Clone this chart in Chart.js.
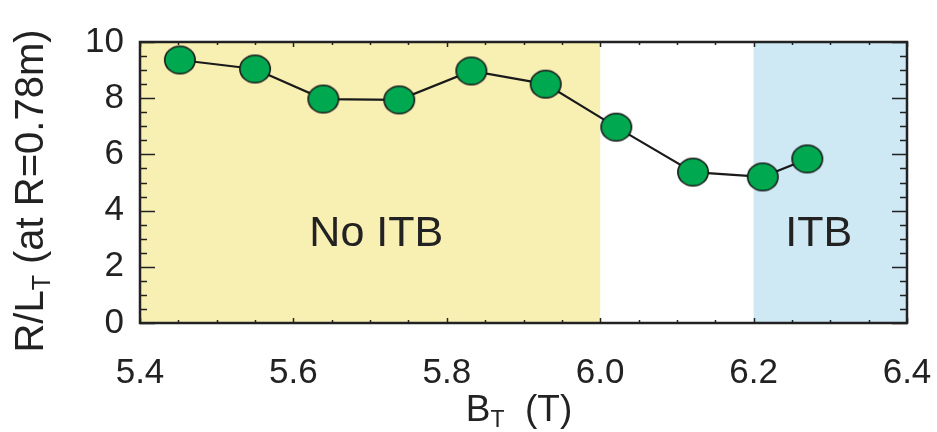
<!DOCTYPE html>
<html>
<head>
<meta charset="utf-8">
<script src="https://cdn.jsdelivr.net/npm/chart.js@4.4.1/dist/chart.umd.min.js"></script>
<style>
  html, body { margin: 0; padding: 0; background: #fff; }
  canvas { display: block; }
</style>
</head>
<body>
<canvas id="c" width="937" height="432"></canvas>
<script>
// toroidal field B_T (T) and R/L_T at R=0.78m
const bField = [5.452, 5.550, 5.639, 5.738, 5.832, 5.929, 6.021, 6.121, 6.212, 6.270];
const rlt    = [9.36, 9.04, 7.97, 7.94, 8.97, 8.50, 6.97, 5.37, 5.20, 5.84];

const xTicks = [5.4, 5.6, 5.8, 6.0, 6.2, 6.4];
const yTicks = [0, 2, 4, 6, 8, 10];

// shaded regimes
const regions = [
  { from: 5.4, to: 6.0, color: '#F8F0B3' },
  { from: 6.2, to: 6.4, color: '#CEE8F4' }
];

const FONT = '"Liberation Sans", Arial, sans-serif';
const INK = '#222';

// slightly oval marker like the original
function makeMarker() {
  const c = document.createElement('canvas');
  c.width = 34; c.height = 31;
  const g = c.getContext('2d');
  g.beginPath();
  g.ellipse(17, 15.5, 15.2, 13.8, 0, 0, Math.PI * 2);
  g.fillStyle = '#00A84F';
  g.fill();
  g.lineWidth = 1.6;
  g.strokeStyle = '#1a1a1a';
  g.stroke();
  return c;
}

const decor = {
  id: 'decor',
  beforeDatasetsDraw(chart) {
    const { ctx, chartArea: a, scales: { x, y } } = chart;
    ctx.save();
    regions.forEach(r => {
      const x0 = x.getPixelForValue(r.from), x1 = x.getPixelForValue(r.to);
      ctx.fillStyle = r.color;
      ctx.fillRect(x0, a.top, x1 - x0, a.bottom - a.top);
    });
    // region labels
    ctx.fillStyle = INK;
    ctx.font = '43px ' + FONT;
    ctx.textAlign = 'center';
    ctx.textBaseline = 'alphabetic';
    ctx.fillText('No ITB', x.getPixelForValue(5.708), y.getPixelForValue(2.74));
    ctx.fillText('ITB', x.getPixelForValue(6.285), y.getPixelForValue(2.74));
    ctx.restore();
  },
  afterDatasetsDraw(chart) {
    const { ctx, chartArea: a, scales: { x, y } } = chart;
    ctx.save();
    ctx.strokeStyle = INK;
    ctx.lineWidth = 1.5;
    ctx.beginPath();
    // y ticks every 0.5, long at the labelled values
    for (let v = 0; v <= 10.001; v += 0.5) {
      const py = Math.round(y.getPixelForValue(v)) + 0.5;
      const len = Math.abs(v % 2) < 0.01 ? 15 : 7;
      ctx.moveTo(a.left, py); ctx.lineTo(a.left + len, py);
      ctx.moveTo(a.right, py); ctx.lineTo(a.right - len, py);
    }
    // x ticks every 0.05
    for (let i = 0; i <= 20; i++) {
      const v = 5.4 + i * 0.05;
      const px = Math.round(x.getPixelForValue(v)) + 0.5;
      const len = i % 4 === 0 ? 5 : 3;
      ctx.moveTo(px, a.bottom); ctx.lineTo(px, a.bottom - len);
      ctx.moveTo(px, a.top); ctx.lineTo(px, a.top + len);
    }
    ctx.stroke();
    ctx.lineWidth = 2.5;
    ctx.strokeRect(a.left, a.top, a.right - a.left, a.bottom - a.top);
    ctx.restore();
  },
  afterDraw(chart) {
    const { ctx, chartArea: a } = chart;
    ctx.save();
    ctx.fillStyle = INK;
    ctx.textBaseline = 'alphabetic';
    // x title: B_T (T)
    let big = '37px ' + FONT, sub = '23px ' + FONT;
    ctx.font = big; const wB = ctx.measureText('B').width;
    ctx.font = sub; const wT = ctx.measureText('T').width;
    ctx.font = big; const wR = ctx.measureText('  (T)').width;
    let sx = 519 - (wB + wT + wR) / 2;
    const by = 421;
    ctx.font = big; ctx.fillText('B', sx, by);
    ctx.font = sub; ctx.fillText('T', sx + wB, by + 6);
    ctx.font = big; ctx.fillText('  (T)', sx + wB + wT, by);
    // y title: R/L_T (at R=0.78m)
    big = '40px ' + FONT; sub = '25px ' + FONT;
    ctx.translate(43, 191);
    ctx.rotate(-Math.PI / 2);
    const p1 = 'R/L', p2 = ' (at R=0.78m)';
    ctx.font = big; const w1 = ctx.measureText(p1).width, w2 = ctx.measureText(p2).width;
    ctx.font = sub; const ws = ctx.measureText('T').width;
    let tx = -(w1 + ws + w2) / 2;
    ctx.font = big; ctx.fillText(p1, tx, 0);
    ctx.font = sub; ctx.fillText('T', tx + w1, 7);
    ctx.font = big; ctx.fillText(p2, tx + w1 + ws, 0);
    ctx.restore();
  }
};

new Chart(document.getElementById('c'), {
  type: 'scatter',
  data: {
    datasets: [{
      data: bField.map((b, i) => ({ x: b, y: rlt[i] })),
      showLine: true,
      borderColor: '#1a1a1a',
      borderWidth: 2.2,
      pointStyle: makeMarker(),
      pointRadius: 15
    }]
  },
  options: {
    responsive: false,
    animation: false,
    devicePixelRatio: 1,
    layout: { padding: { top: 42, right: 30, left: 0, bottom: 0 } },
    plugins: { legend: { display: false }, tooltip: { enabled: false } },
    scales: {
      x: {
        type: 'linear',
        min: 5.4, max: 6.4,
        afterBuildTicks: s => { s.ticks = xTicks.map(v => ({ value: v })); },
        afterFit: s => { s.height = 109; s.paddingLeft = 0; s.paddingRight = 0; },
        grid: { display: false, drawTicks: false },
        border: { display: false },
        ticks: {
          callback: v => v.toFixed(1),
          font: { size: 35, family: FONT },
          color: INK,
          padding: 29,
          maxRotation: 0
        }
      },
      y: {
        min: 0, max: 10,
        afterBuildTicks: s => { s.ticks = yTicks.map(v => ({ value: v })); },
        afterFit: s => { s.width = 140; },
        grid: { display: false, drawTicks: false },
        border: { display: false },
        ticks: {
          font: { size: 35, family: FONT },
          color: INK,
          padding: 16
        }
      }
    }
  },
  plugins: [decor]
});
</script>
</body>
</html>
